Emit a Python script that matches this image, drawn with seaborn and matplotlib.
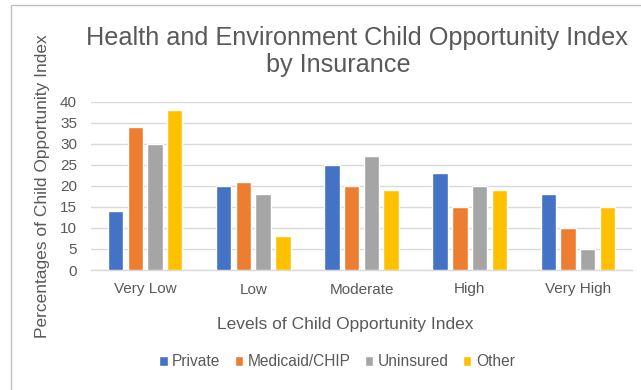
import matplotlib
matplotlib.use("Agg")
import matplotlib.pyplot as plt
from matplotlib.patches import Rectangle
import seaborn as sns
import pandas as pd

levels = ["Very Low", "Low", "Moderate", "High", "Very High"]
insurance = ["Private", "Medicaid/CHIP", "Uninsured", "Other"]
private = [14, 20, 25, 23, 18]
medicaid = [34, 21, 20, 15, 10]
uninsured = [30, 18, 27, 20, 5]
other = [38, 8, 19, 19, 15]
colors = ["#4472C4", "#ED7D31", "#A5A5A5", "#FFC000"]
yticks = [0, 5, 10, 15, 20, 25, 30, 35, 40]
title_lines = ["Health and Environment Child Opportunity Index", "by Insurance"]

series = [private, medicaid, uninsured, other]
df = pd.DataFrame(
    [(lvl, name, vals[i]) for name, vals in zip(insurance, series) for i, lvl in enumerate(levels)],
    columns=["level", "insurance", "pct"],
)

sns.set_theme(style="white")
plt.rcParams["font.family"] = ["Liberation Sans", "DejaVu Sans"]
text_color = "#595959"
grid_color = "#D9D9D9"

W, H = 641, 390
fig = plt.figure(figsize=(W / 100, H / 100), dpi=100)
fig.patch.set_facecolor("white")

# chart frame
fig.patches.append(Rectangle((11 / W, -0.1), 1.2, (H - 5.5) / H + 0.1,
                             transform=fig.transFigure, fill=False,
                             edgecolor="#BFBFBF", linewidth=1.0))

left, right, bottom_px, top_px = 91, 632, 270, 101.5
ax = fig.add_axes([left / W, (H - bottom_px) / H, (right - left) / W, (bottom_px - top_px) / H])

sns.barplot(data=df, x="level", y="pct", hue="insurance", order=levels,
            hue_order=insurance, palette=colors, width=0.73, gap=0.22,
            saturation=1, ax=ax, legend=False, errorbar=None, zorder=3)

ax.set_ylim(0, 40)
ax.set_xlim(-0.5, 4.5)
ax.set_yticks(yticks)
ax.yaxis.grid(True, color=grid_color, linewidth=1.0, zorder=0)
ax.set_axisbelow(True)
for side in ["top", "right", "left"]:
    ax.spines[side].set_visible(False)
ax.spines["bottom"].set_color(grid_color)
ax.spines["bottom"].set_linewidth(1.0)
ax.tick_params(axis="both", length=0, colors=text_color, labelsize=11)
ax.tick_params(axis="y", pad=10)
ax.tick_params(axis="x", pad=9)
ax.set_xlabel("Levels of Child Opportunity Index", fontsize=12.5, color=text_color, labelpad=15)
ax.xaxis.label.set_x((345 - left) / (right - left))
ax.set_ylabel("Percentages of Child Opportunity Index", fontsize=12.5, color=text_color, labelpad=7)

# two-line title, each line placed on its own
fig.text(356.5 / W, 1 - 44.5 / H, title_lines[0], ha="center", va="baseline",
         fontsize=18.2, color=text_color)
fig.text(338 / W, 1 - 72 / H, title_lines[1], ha="center", va="baseline",
         fontsize=18.2, color=text_color)

handles = [Rectangle((0, 0), 1, 1, facecolor=c) for c in colors]
fig.legend(handles, insurance, loc="center", bbox_to_anchor=(337 / W, 1 - 362 / H), ncol=4,
           frameon=False, fontsize=11.2, labelcolor=text_color, handlelength=0.55,
           handleheight=0.55, handletextpad=0.3, columnspacing=0.9)

fig.savefig("out.png", dpi=100, facecolor="white")
